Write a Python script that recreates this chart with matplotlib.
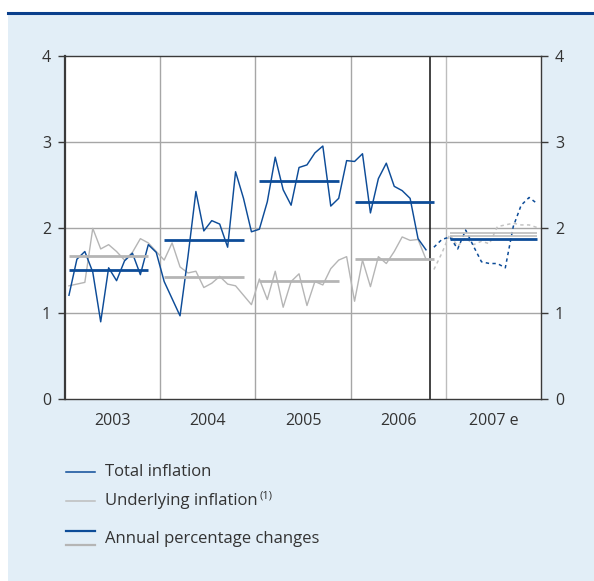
import matplotlib
matplotlib.use("Agg")
import matplotlib.pyplot as plt
from matplotlib.lines import Line2D
from matplotlib.patches import Rectangle
import numpy as np

plt.rcParams['font.family'] = ['Open Sans', 'DejaVu Sans']
plt.rcParams['mathtext.default'] = 'regular'

# ---------------- data ----------------
years = ["2003", "2004", "2005", "2006", "2007 e"]

# monthly total inflation, Jan 2003 - Oct 2006 (actual)
total_actual = [1.21, 1.63, 1.72, 1.48, 0.90, 1.53, 1.38, 1.61, 1.70, 1.45, 1.80, 1.71,
                1.37, 1.17, 0.97, 1.66, 2.42, 1.96, 2.08, 2.04, 1.77, 2.65, 2.34, 1.95,
                1.98, 2.30, 2.82, 2.44, 2.26, 2.70, 2.73, 2.87, 2.95, 2.25, 2.34, 2.78,
                2.77, 2.86, 2.17, 2.57, 2.75, 2.48, 2.43, 2.34, 1.87, 1.74]
# monthly total inflation forecast, Nov 2006 - Dec 2007
total_forecast = [1.77, 1.86, 1.89, 1.75, 1.97, 1.78, 1.60, 1.58, 1.58, 1.53,
                  2.01, 2.26, 2.35, 2.28]

# monthly underlying inflation, Jan 2003 - Oct 2006 (actual)
under_actual = [1.32, 1.34, 1.36, 1.99, 1.75, 1.80, 1.72, 1.62, 1.71, 1.87, 1.82, 1.72,
                1.62, 1.82, 1.54, 1.47, 1.49, 1.30, 1.35, 1.43, 1.34, 1.32, 1.21, 1.10,
                1.40, 1.16, 1.49, 1.07, 1.37, 1.46, 1.09, 1.37, 1.33, 1.52, 1.62, 1.66,
                1.14, 1.62, 1.31, 1.66, 1.58, 1.72, 1.89, 1.85, 1.86, 1.63]
# underlying inflation forecast, Nov 2006 - Dec 2007
under_forecast = [1.51, 1.70, 1.92, 1.78, 1.88, 1.80, 1.84, 1.81, 2.01, 2.03,
                  2.05, 2.03, 2.03, 2.00]

# annual percentage changes
annual_total = [1.50, 1.86, 2.54, 2.30, 1.87]
annual_under = [1.67, 1.42, 1.38, 1.63, 1.92]

yticks = [0, 1, 2, 3, 4]

# ---------------- style ----------------
BLUE = "#0d4c98"
GREY = "#b5b5b5"
GRID = "#a6a6a6"
DARK = "#3a3a3a"
BG = "#e2eef7"
TXT = "#333333"

W, H = 594, 581
fig = plt.figure(figsize=(W / 100, H / 100), dpi=100)
fig.patch.set_facecolor("white")

# light blue panel and top rule
fig.patches.append(Rectangle((8 / W, 0), 1 - 8 / W, 1 - 13 / H, transform=fig.transFigure,
                             facecolor=BG, edgecolor="none", zorder=-5))
fig.lines.append(Line2D([8 / W, 1], [1 - 12.5 / H, 1 - 12.5 / H], transform=fig.transFigure,
                        color="#0a3f8c", lw=2.2, zorder=-4))

ax_l, ax_r, ax_t, ax_b = 65, 541, 56, 399
ax = fig.add_axes([ax_l / W, 1 - ax_b / H, (ax_r - ax_l) / W, (ax_b - ax_t) / H])
ax.set_zorder(5)
ax.set_facecolor("white")

n_act = len(total_actual)
x_act = np.arange(n_act) + 0.5
x_fc = np.arange(n_act, n_act + len(total_forecast)) + 0.5

# grid
for y in [1, 2, 3]:
    ax.axhline(y, color=GRID, lw=1.0, zorder=1)
for i in range(1, len(years)):
    ax.axvline(12 * i, color=GRID if i != 4 else "#bdbdbd", lw=1.0, zorder=1)
ax.axvline(n_act, color="#111111", lw=1.1, zorder=2)

# monthly lines
ax.plot(x_act, under_actual, color=GREY, lw=1.0, zorder=3)
ax.plot(x_act, total_actual, color=BLUE, lw=1.05, zorder=4)
ax.plot(x_fc, under_forecast, color="#c4c4c4", lw=1.1, ls=(0, (2.2, 2.2)), zorder=3)
ax.plot(x_fc, total_forecast, color=BLUE, lw=1.1, ls=(0, (2.2, 2.2)), zorder=4)

# annual averages
for i, (vt, vu) in enumerate(zip(annual_total, annual_under)):
    x0 = 12 * i + 0.5
    x1 = 12 * i + (11.5 if i == len(years) - 1 else 10.5)
    if i == len(years) - 1:
        ax.hlines([vu + 0.015, vu - 0.015], x0, x1, color="#bcbcbc", lw=1.2, zorder=5)
    else:
        ax.hlines(vu, x0, x1, color=GREY, lw=2.0, zorder=5)
    ax.hlines(vt, x0, x1, color=BLUE, lw=2.0, zorder=6)

ax.set_xlim(0, 12 * len(years))
ax.set_ylim(0, 4)

for s in ax.spines.values():
    s.set_color(DARK)
    s.set_linewidth(1.0)
ax.spines['left'].set_linewidth(1.6)

ax.set_yticks(yticks)
ax.set_yticklabels([str(v) for v in yticks])
ax.tick_params(axis='y', which='both', direction='out', length=5, width=1.0, color=DARK,
               labelsize=11.5, labelcolor=TXT, left=True, right=True,
               labelleft=True, labelright=True, pad=5)
ax.set_xticks([12 * i + 6 for i in range(len(years))])
ax.set_xticklabels(years)
ax.tick_params(axis='x', length=0, labelsize=11.5, labelcolor=TXT, pad=10)

# legend (manual)
def fx(px):
    return px / W

def fy(py):
    return 1 - py / H

leg = [
    (472, BLUE, "Total inflation"),
    (501, "#bdbdbd", "Underlying inflation"),
]
for py, c, label in leg:
    fig.lines.append(Line2D([fx(66), fx(95)], [fy(py), fy(py)], transform=fig.transFigure,
                            color=c, lw=1.1))
    t = fig.text(fx(105), fy(py), label, fontsize=12, color=TXT, va='center', ha='left')

# superscript note marker after "Underlying inflation"
fig.canvas.draw()
bb = t.get_window_extent()
fig.text(bb.x1 / W + 2 / W, fy(496), "(1)", fontsize=8, color=TXT, va='center', ha='left')

fig.lines.append(Line2D([fx(66), fx(95)], [fy(531), fy(531)], transform=fig.transFigure,
                        color=BLUE, lw=1.6))
fig.lines.append(Line2D([fx(66), fx(95)], [fy(544.5), fy(544.5)], transform=fig.transFigure,
                        color=GREY, lw=1.6))
fig.text(fx(105), fy(539), "Annual percentage changes", fontsize=12, color=TXT,
         va='center', ha='left')

fig.savefig("out.png", dpi=100, facecolor=fig.get_facecolor())
